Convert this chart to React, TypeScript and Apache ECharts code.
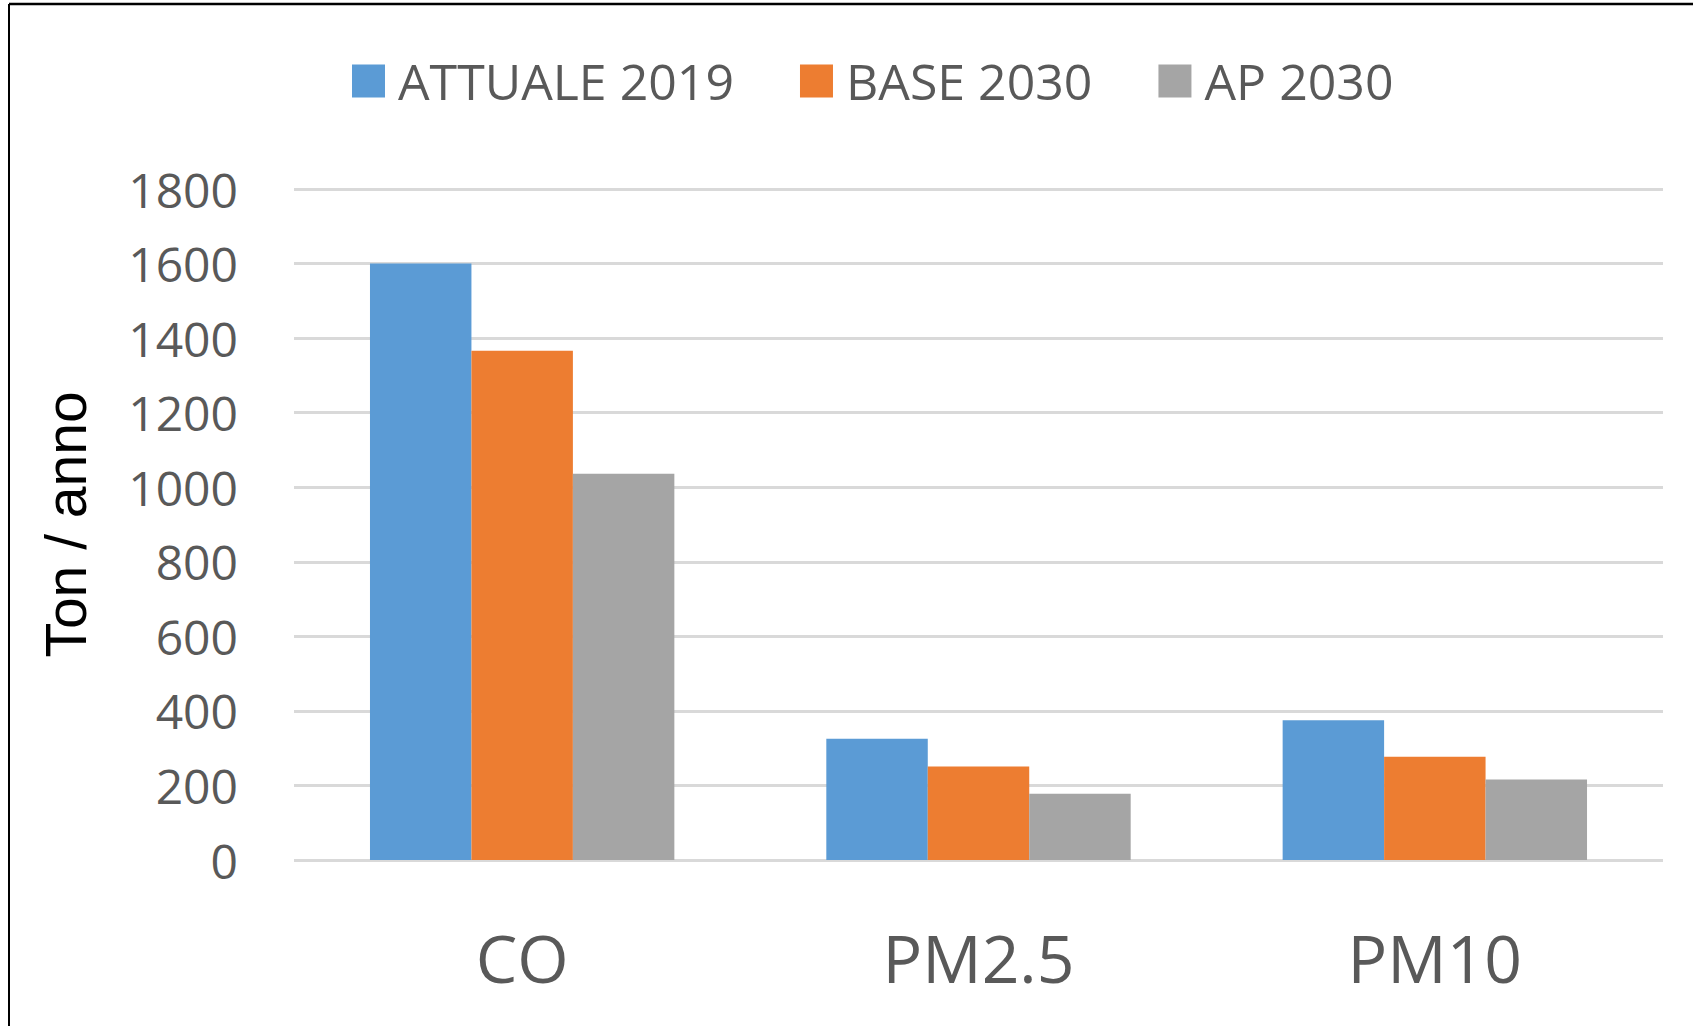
import React, { useEffect, useRef } from "react";
import * as echarts from "echarts";

const categories = ["CO", "PM2.5", "PM10"];
const seriesNames = ["ATTUALE 2019", "BASE 2030", "AP 2030"];
const attuale2019 = [1600, 325, 375];
const base2030 = [1366, 251, 277];
const ap2030 = [1036, 178, 216];
const yTicks = { min: 0, max: 1800, interval: 200 };
const colors = ["#5B9BD5", "#ED7D31", "#A5A5A5"];

export default function App() {
  const ref = useRef<HTMLDivElement>(null);
  useEffect(() => {
    if (!ref.current) return;
    const chart = echarts.init(ref.current, null, { renderer: "svg" });
    const values = [attuale2019, base2030, ap2030];
    chart.setOption({
      animation: false,
      backgroundColor: "#ffffff",
      color: colors,
      legend: {
        left: 347,
        top: 51,
        icon: "rect",
        itemWidth: 33,
        itemHeight: 33,
        itemGap: 66,
        data: seriesNames,
        textStyle: {
          fontFamily: "Open Sans",
          fontSize: 50,
          color: "#595959",
          padding: [0, 0, 0, 8],
        },
      },
      grid: { left: 294, right: 30, top: 189, bottom: 166, containLabel: false },
      xAxis: {
        type: "category",
        data: categories,
        axisLine: { show: false },
        axisTick: { show: false },
        axisLabel: {
          fontFamily: "Open Sans",
          fontSize: 66,
          color: "#595959",
          margin: 64,
        },
      },
      yAxis: {
        type: "value",
        min: yTicks.min,
        max: yTicks.max,
        interval: yTicks.interval,
        name: "Ton / anno",
        nameLocation: "middle",
        nameGap: 200,
        nameTextStyle: {
          fontFamily: "Liberation Sans",
          fontSize: 57,
          color: "#000000",
        },
        axisLine: { show: false },
        axisTick: { show: false },
        axisLabel: {
          fontFamily: "Open Sans",
          fontSize: 48,
          color: "#595959",
          margin: 56,
          formatter: (v: number) => String(v),
        },
        splitLine: { lineStyle: { color: "#d9d9d9", width: 3 } },
      },
      series: seriesNames.map((name, i) => ({
        name,
        type: "bar",
        data: values[i],
        barGap: "0%",
        barCategoryGap: "33.3%",
        itemStyle: { color: colors[i] },
      })),
      graphic: [
        {
          type: "line",
          shape: { x1: 9, y1: 4, x2: 1693, y2: 4 },
          style: { stroke: "#000000", lineWidth: 2.5 },
          z: 100,
        },
        {
          type: "line",
          shape: { x1: 9, y1: 4, x2: 9, y2: 1026 },
          style: { stroke: "#000000", lineWidth: 2 },
          z: 100,
        },
      ],
    });
    return () => chart.dispose();
  }, []);
  return (
    <div
      ref={ref}
      style={{ position: "fixed", left: 0, top: 0, width: 1693, height: 1026, background: "#fff" }}
    />
  );
}
